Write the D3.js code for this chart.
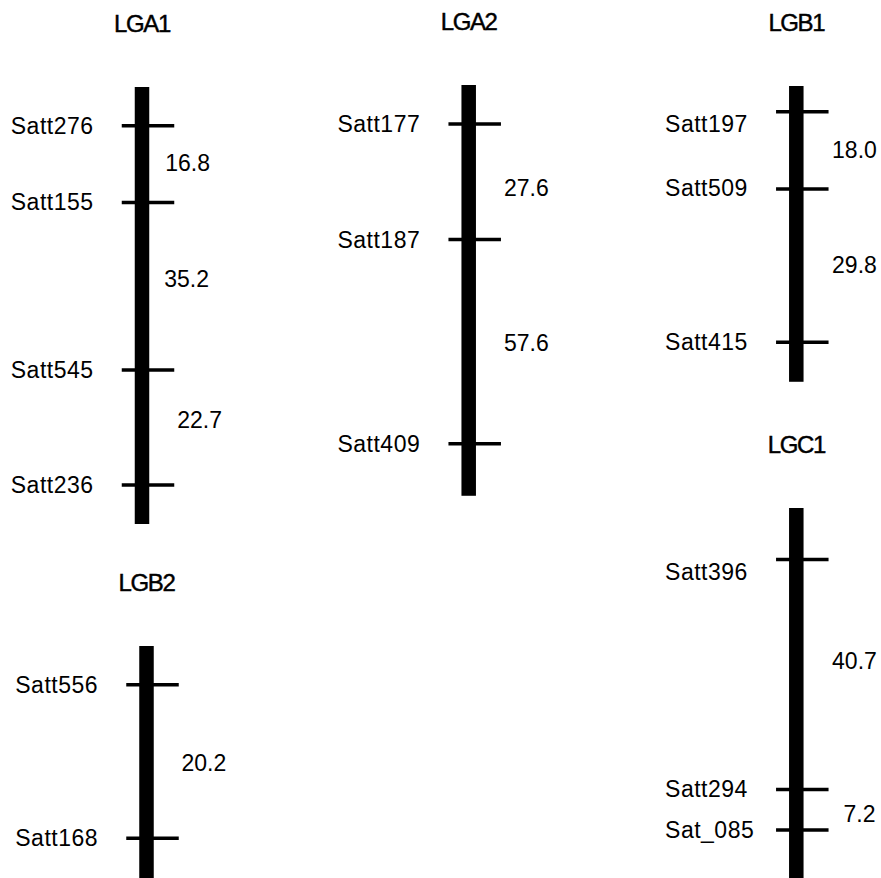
<!DOCTYPE html>
<html>
<head>
<meta charset="utf-8">
<script src="https://cdn.jsdelivr.net/npm/d3@7"></script>
<style>
  html, body { margin: 0; padding: 0; background: #fff; }
  svg { display: block; }
  text { font-family: "Liberation Sans", Arial, Helvetica, sans-serif; fill: #000; }
</style>
</head>
<body>
<svg id="chart" width="881" height="878"></svg>
<script>
// ---- DATA (positions in map units along each linkage group) ----
const groups = ["LGA1", "LGA2", "LGB1", "LGC1", "LGB2"];

const LGA1_markers   = ["Satt276", "Satt155", "Satt545", "Satt236"];
const LGA1_positions = [8.4, 25.1, 61.5, 86.5];
const LGA1_length    = 95.0;
const LGA1_intervals = ["16.8", "35.2", "22.7"];
const LGA1_intervalPos = [16.6, 41.7, 72.4];
const LGA1_labelPos  = [8.4, 25.1, 61.5, 86.5];

const LGA2_markers   = ["Satt177", "Satt187", "Satt409"];
const LGA2_positions = [8.5, 33.6, 78.0];
const LGA2_length    = 89.3;
const LGA2_intervals = ["27.6", "57.6"];
const LGA2_intervalPos = [22.4, 56.1];
const LGA2_labelPos  = [8.5, 33.6, 78.0];

const LGB1_markers   = ["Satt197", "Satt509", "Satt415"];
const LGB1_positions = [5.6, 22.4, 55.7];
const LGB1_length    = 64.3;
const LGB1_intervals = ["18.0", "29.8"];
const LGB1_intervalPos = [13.9, 39.0];
const LGB1_labelPos  = [8.3, 22.2, 55.6];

const LGC1_markers   = ["Satt396", "Satt294", "Sat_085"];
const LGC1_positions = [11.2, 61.2, 70.0];
const LGC1_length    = 82.0;
const LGC1_intervals = ["40.7", "7.2"];
const LGC1_intervalPos = [33.2, 66.6];
const LGC1_labelPos  = [13.9, 61.1, 70.0];

const LGB2_markers   = ["Satt556", "Satt168"];
const LGB2_positions = [8.4, 41.8];
const LGB2_length    = 52.0;
const LGB2_intervals = ["20.2"];
const LGB2_intervalPos = [25.4];
const LGB2_labelPos  = [8.4, 41.8];

const dataByGroup = {
  LGA1: {markers: LGA1_markers, pos: LGA1_positions, len: LGA1_length, intervals: LGA1_intervals, intervalPos: LGA1_intervalPos, labelPos: LGA1_labelPos},
  LGA2: {markers: LGA2_markers, pos: LGA2_positions, len: LGA2_length, intervals: LGA2_intervals, intervalPos: LGA2_intervalPos, labelPos: LGA2_labelPos},
  LGB1: {markers: LGB1_markers, pos: LGB1_positions, len: LGB1_length, intervals: LGB1_intervals, intervalPos: LGB1_intervalPos, labelPos: LGB1_labelPos},
  LGC1: {markers: LGC1_markers, pos: LGC1_positions, len: LGC1_length, intervals: LGC1_intervals, intervalPos: LGC1_intervalPos, labelPos: LGC1_labelPos},
  LGB2: {markers: LGB2_markers, pos: LGB2_positions, len: LGB2_length, intervals: LGB2_intervals, intervalPos: LGB2_intervalPos, labelPos: LGB2_labelPos}
};

// ---- LAYOUT (panel placement and styles) ----
const pxPerUnit = 4.6;
const layout = {
  LGA1: {cx: 142.0, top: 87,  intervalDx: [16, 15, 28]},
  LGA2: {cx: 468.7, top: 85,  intervalDx: [28, 28]},
  LGB1: {cx: 796.3, top: 86,  intervalDx: [28.5, 28.5]},
  LGC1: {cx: 796.3, top: 508, intervalDx: [28.5, 40]},
  LGB2: {cx: 146.5, top: 646, intervalDx: [27.7]}
};
const barW = 14.5, tickLeft = 13, tickRight = 25, labelOffset = 124;

const svg = d3.select("#chart");

groups.forEach(name => {
  const d = dataByGroup[name];
  const L = layout[name];
  const y = d3.scaleLinear().domain([0, d.len]).range([L.top, L.top + d.len * pxPerUnit]);
  const g = svg.append("g").attr("class", "lg-" + name);
  const xl = L.cx - barW / 2, xr = L.cx + barW / 2;

  // title
  g.append("text")
    .attr("x", L.cx)
    .attr("y", L.top - 64)
    .attr("text-anchor", "middle")
    .attr("dominant-baseline", "central")
    .style("font-size", "24px")
    .style("letter-spacing", "-1.4px")
    .style("stroke", "#000")
    .style("stroke-width", "0.45px")
    .text(name);

  // chromosome bar
  g.append("rect")
    .attr("x", xl)
    .attr("y", y(0))
    .attr("width", barW)
    .attr("height", y(d.len) - y(0))
    .attr("fill", "#000");

  // marker ticks
  g.selectAll("line.tick").data(d.pos).join("line")
    .attr("class", "tick")
    .attr("x1", xl - tickLeft)
    .attr("x2", xr + tickRight)
    .attr("y1", p => y(p))
    .attr("y2", p => y(p))
    .attr("stroke", "#000")
    .attr("stroke-width", 3.5);

  // marker names
  g.selectAll("text.marker").data(d.markers).join("text")
    .attr("class", "marker")
    .attr("x", xl - labelOffset)
    .attr("y", (m, i) => y(d.labelPos[i]))
    .attr("text-anchor", "start")
    .attr("dominant-baseline", "central")
    .style("font-size", "23px")
    .style("letter-spacing", "0.5px")
    .text(m => m);

  // interval distances
  g.selectAll("text.interval").data(d.intervals).join("text")
    .attr("class", "interval")
    .attr("x", (v, i) => xr + L.intervalDx[i])
    .attr("y", (v, i) => y(d.intervalPos[i]))
    .attr("text-anchor", "start")
    .attr("dominant-baseline", "central")
    .style("font-size", "23px")
    .text(v => v);
});
</script>
</body>
</html>
